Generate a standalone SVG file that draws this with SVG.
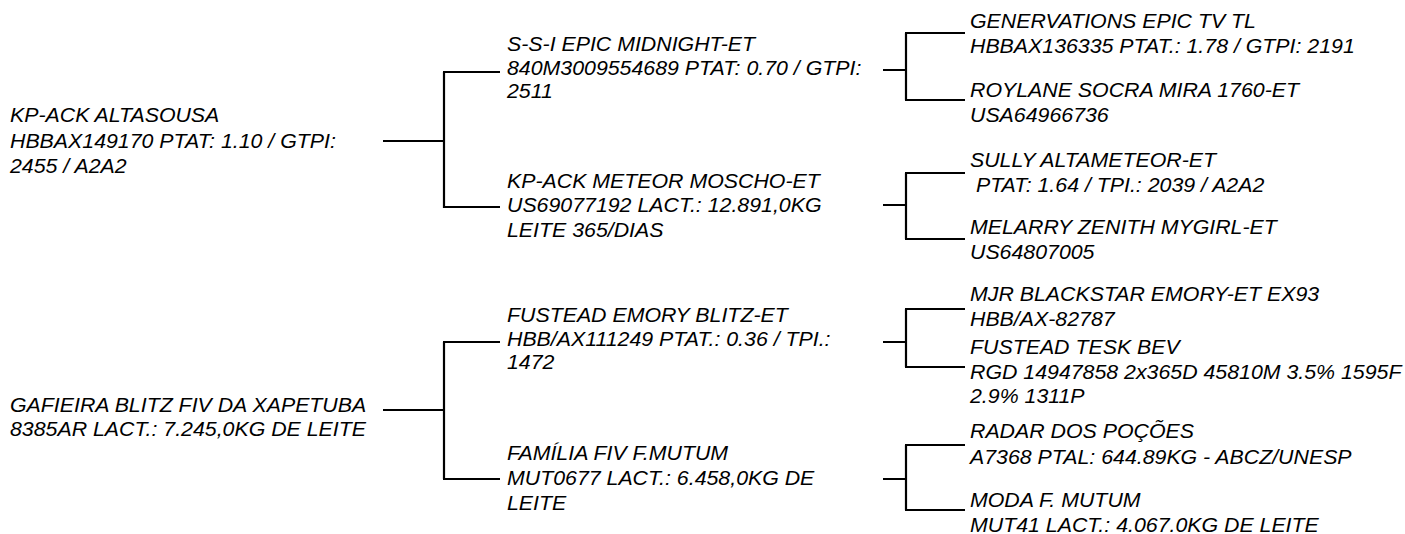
<svg xmlns="http://www.w3.org/2000/svg" width="1405" height="534" viewBox="0 0 1405 534">
<style>
  .t { font-family: "Liberation Sans", Arial, sans-serif; font-style: italic; font-size: 19.4px; fill: #000; white-space: pre; }
  .c { stroke: #000; stroke-width: 2.2; fill: none; }
</style>
<rect width="1405" height="534" fill="#fff"/>
<g id="connectors">
  <path class="c" d="M383 141 H444 M444 72 V208 M443 72 H500 M443 207 H500"/>
  <path class="c" d="M383 410 H444 M444 342 V479 M443 342 H500 M443 479 H500"/>
  <path class="c" d="M883 70 H906 M906 33 V100 M905 33 H965 M905 100 H965"/>
  <path class="c" d="M883 205 H906 M906 173 V239 M905 173 H965 M905 239 H965"/>
  <path class="c" d="M883 342 H906 M906 309 V367 M905 309 H965 M905 367 H965"/>
  <path class="c" d="M883 479 H906 M906 445 V510 M905 445 H965 M905 510 H965"/>
</g>
<g id="node-kp-ack-altasousa">
  <text class="t" transform="translate(10 0) scale(1.1 1)"><tspan x="0" y="122">KP-ACK ALTASOUSA</tspan><tspan x="0" y="148">HBBAX149170 PTAT: 1.10 / GTPI:</tspan><tspan x="0" y="173">2455 / A2A2</tspan></text>
</g>
<g id="node-gafieira">
  <text class="t" transform="translate(10 0) scale(1.1 1)"><tspan x="0" y="412">GAFIEIRA BLITZ FIV DA XAPETUBA</tspan><tspan x="0" y="436">8385AR LACT.: 7.245,0KG DE LEITE</tspan></text>
</g>
<g id="node-ssi-epic-midnight">
  <text class="t" transform="translate(507 0) scale(1.1 1)"><tspan x="0" y="51">S-S-I EPIC MIDNIGHT-ET</tspan><tspan x="0" y="75">840M3009554689 PTAT: 0.70 / GTPI:</tspan><tspan x="0" y="98">2511</tspan></text>
</g>
<g id="node-kp-ack-meteor">
  <text class="t" transform="translate(507 0) scale(1.1 1)"><tspan x="0" y="188">KP-ACK METEOR MOSCHO-ET</tspan><tspan x="0" y="212">US69077192 LACT.: 12.891,0KG</tspan><tspan x="0" y="237">LEITE 365/DIAS</tspan></text>
</g>
<g id="node-fustead-emory-blitz">
  <text class="t" transform="translate(507 0) scale(1.1 1)"><tspan x="0" y="322">FUSTEAD EMORY BLITZ-ET</tspan><tspan x="0" y="346">HBB/AX111249 PTAT.: 0.36 / TPI.:</tspan><tspan x="0" y="369">1472</tspan></text>
</g>
<g id="node-familia-fiv">
  <text class="t" transform="translate(507 0) scale(1.1 1)"><tspan x="0" y="460">FAMÍLIA FIV F.MUTUM</tspan><tspan x="0" y="485">MUT0677 LACT.: 6.458,0KG DE</tspan><tspan x="0" y="510">LEITE</tspan></text>
</g>
<g id="node-genervations">
  <text class="t" transform="translate(970 0) scale(1.1 1)"><tspan x="0" y="28">GENERVATIONS EPIC TV TL</tspan><tspan x="0" y="53">HBBAX136335 PTAT.: 1.78 / GTPI: 2191</tspan></text>
</g>
<g id="node-roylane">
  <text class="t" transform="translate(970 0) scale(1.1 1)"><tspan x="0" y="97">ROYLANE SOCRA MIRA 1760-ET</tspan><tspan x="0" y="122">USA64966736</tspan></text>
</g>
<g id="node-sully">
  <text class="t" transform="translate(970 0) scale(1.1 1)"><tspan x="0" y="167">SULLY ALTAMETEOR-ET</tspan><tspan x="0" y="192"> PTAT: 1.64 / TPI.: 2039 / A2A2</tspan></text>
</g>
<g id="node-melarry">
  <text class="t" transform="translate(970 0) scale(1.1 1)"><tspan x="0" y="234">MELARRY ZENITH MYGIRL-ET</tspan><tspan x="0" y="259">US64807005</tspan></text>
</g>
<g id="node-mjr-blackstar">
  <text class="t" transform="translate(970 0) scale(1.1 1)"><tspan x="0" y="301">MJR BLACKSTAR EMORY-ET EX93</tspan><tspan x="0" y="326">HBB/AX-82787</tspan></text>
</g>
<g id="node-fustead-tesk">
  <text class="t" transform="translate(970 0) scale(1.1 1)"><tspan x="0" y="354">FUSTEAD TESK BEV</tspan><tspan x="0" y="379">RGD 14947858 2x365D 45810M 3.5% 1595F</tspan><tspan x="0" y="403">2.9% 1311P</tspan></text>
</g>
<g id="node-radar">
  <text class="t" transform="translate(970 0) scale(1.1 1)"><tspan x="0" y="438">RADAR DOS POÇÕES</tspan><tspan x="0" y="464">A7368 PTAL: 644.89KG - ABCZ/UNESP</tspan></text>
</g>
<g id="node-moda">
  <text class="t" transform="translate(970 0) scale(1.1 1)"><tspan x="0" y="507">MODA F. MUTUM</tspan><tspan x="0" y="532">MUT41 LACT.: 4.067.0KG DE LEITE</tspan></text>
</g>
</svg>
